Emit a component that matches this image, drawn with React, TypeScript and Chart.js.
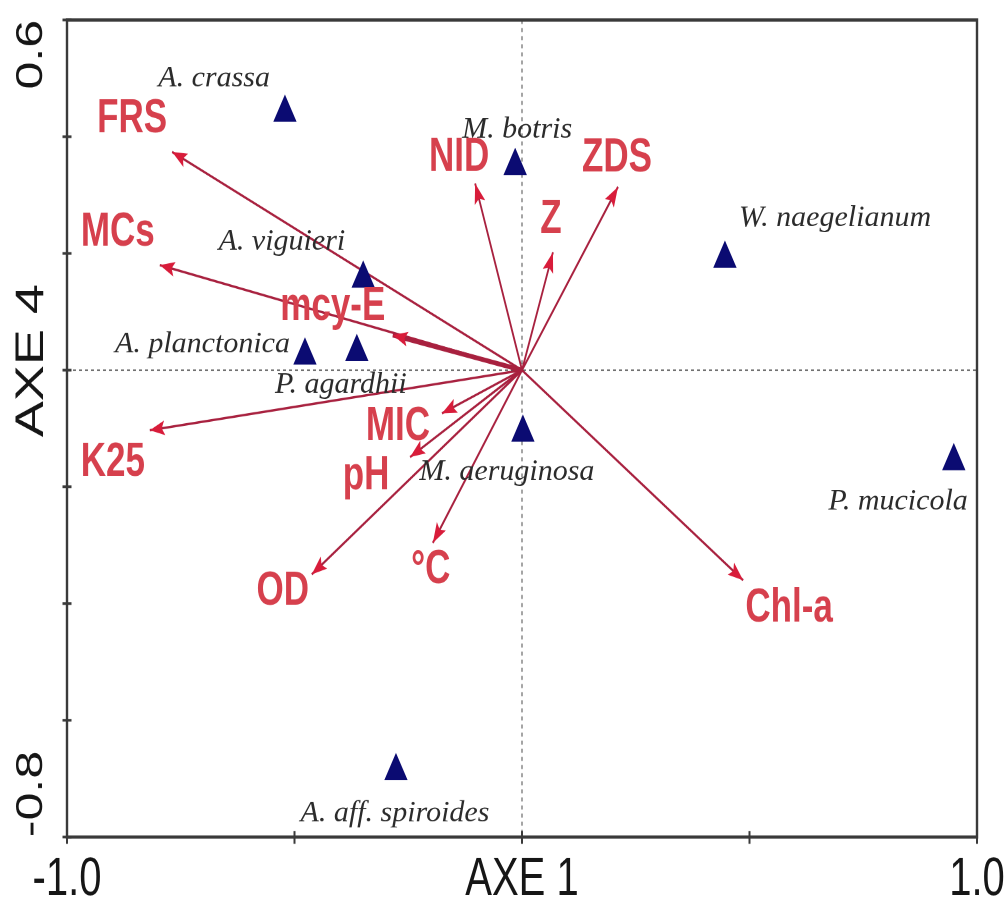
import React, { useEffect, useRef } from 'react';
import { Chart, registerables } from 'chart.js';

Chart.register(...registerables);

// ---------- data ----------
const speciesNames = [
  'A. crassa',
  'M. botris',
  'W. naegelianum',
  'A. viguieri',
  'A. planctonica',
  'P. agardhii',
  'M. aeruginosa',
  'P. mucicola',
  'A. aff. spiroides',
];
const speciesAxe1 = [-0.521, -0.015, 0.446, -0.349, -0.477, -0.363, 0.002, 0.949, -0.277];
const speciesAxe4 = [0.441, 0.35, 0.191, 0.157, 0.025, 0.031, -0.107, -0.156, -0.687];

const variableNames = ['FRS', 'MCs', 'mcy-E', 'K25', 'MIC', 'pH', 'OD', '°C', 'Chl-a', 'NID', 'Z', 'ZDS'];
const variableAxe1 = [-0.769, -0.796, -0.284, -0.818, -0.176, -0.246, -0.462, -0.196, 0.486, -0.103, 0.068, 0.211];
const variableAxe4 = [0.374, 0.18, 0.06, -0.103, -0.074, -0.149, -0.35, -0.296, -0.36, 0.32, 0.202, 0.314];

const xTickValues = [-1, 1];
const xTickLabels = ['-1.0', '1.0'];
const yTickValues = [-0.8, 0.6];
const yTickLabels = ['-0.8', '0.6'];
const xAxisTitle = 'AXE 1';
const yAxisTitle = 'AXE 4';

// ---------- layout / style ----------
const W = 1007;
const H = 669;
const STRETCH = 903 / H;

const AXIS_FONT = '"Liberation Sans", Arial, Helvetica, sans-serif';
const SERIF_FONT = '"Liberation Serif", "Times New Roman", Times, serif';
const AXIS_COLOR = '#161616';
const FRAME_COLOR = '#3a3a3a';
const SPECIES_COLOR = '#0b0b72';
const SPECIES_TEXT = '#2b2b2b';
const ARROW_LINE = '#a8213f';
const ARROW_HEAD = '#d81c3a';
const VAR_TEXT = '#d6404d';
const THICK_ARROWS = ['mcy-E'];
const Y_TITLE_SHIFT = -7;

// label placement (canvas px, relative to the mark)
const speciesLabelPlacement: [CanvasTextAlign, number, number][] = [
  ['right', -15, -19.6],
  ['center', 2, -21.1],
  ['left', 14, -24.1],
  ['right', -18, -21.1],
  ['right', -15, -2.6],
  ['center', -16, 30],
  ['center', -16, 35.2],
  ['right', 14, 35.9],
  ['center', -1, 37.4],
];
const variableLabelOffset: [number, number][] = [
  [-40, -24],
  [-42, -24],
  [-60, -21],
  [-37, 24],
  [-44, 10],
  [-44, 14],
  [-29, 13],
  [-2, 20],
  [46, 21],
  [-16, -19],
  [-2, -24],
  [-1, -21],
];

const biplotPlugin = {
  id: 'biplot',
  beforeDatasetsDraw(chart: any) {
    const { ctx, chartArea: a, scales } = chart;
    const x0 = scales.x.getPixelForValue(0);
    const y0 = scales.y.getPixelForValue(0);
    ctx.save();
    ctx.strokeStyle = '#4a4a4a';
    ctx.lineWidth = 1;
    ctx.setLineDash([3, 3]);
    ctx.beginPath();
    ctx.moveTo(x0, a.top);
    ctx.lineTo(x0, a.bottom);
    ctx.moveTo(a.left, y0);
    ctx.lineTo(a.right, y0);
    ctx.stroke();
    ctx.restore();
  },
  afterDatasetsDraw(chart: any) {
    const { ctx, chartArea: a, scales } = chart;
    const xs = scales.x;
    const ys = scales.y;
    const ox = xs.getPixelForValue(0);
    const oy = ys.getPixelForValue(0);

    // arrow heads
    ctx.save();
    ctx.fillStyle = ARROW_HEAD;
    variableNames.forEach((name, i) => {
      const tx = xs.getPixelForValue(variableAxe1[i]);
      const ty = ys.getPixelForValue(variableAxe4[i]);
      const ang = Math.atan2(ty - oy, tx - ox);
      const L = 15;
      const hw = 5.5;
      const ux = Math.cos(ang);
      const uy = Math.sin(ang);
      ctx.beginPath();
      ctx.moveTo(tx, ty);
      ctx.lineTo(tx - L * ux - hw * uy, ty - L * uy + hw * ux);
      ctx.lineTo(tx - 0.8 * L * ux, ty - 0.8 * L * uy);
      ctx.lineTo(tx - L * ux + hw * uy, ty - L * uy - hw * ux);
      ctx.closePath();
      ctx.fill();
    });
    ctx.restore();

    // variable labels
    ctx.save();
    ctx.font = `bold 35px ${AXIS_FONT}`;
    ctx.fillStyle = VAR_TEXT;
    ctx.textAlign = 'center';
    ctx.textBaseline = 'middle';
    variableNames.forEach((name, i) => {
      const tx = xs.getPixelForValue(variableAxe1[i]);
      const ty = ys.getPixelForValue(variableAxe4[i]);
      const [dx, dy] = variableLabelOffset[i];
      ctx.fillText(name, tx + dx, ty + dy);
    });
    ctx.restore();

    // species labels (drawn without the vertical stretch)
    ctx.save();
    ctx.font = `italic 30px ${SERIF_FONT}`;
    ctx.fillStyle = SPECIES_TEXT;
    ctx.textBaseline = 'alphabetic';
    speciesNames.forEach((name, i) => {
      const px = xs.getPixelForValue(speciesAxe1[i]);
      const py = ys.getPixelForValue(speciesAxe4[i]);
      const [align, dx, dy] = speciesLabelPlacement[i];
      ctx.save();
      ctx.translate(px + dx, py + dy);
      ctx.scale(1, 1 / STRETCH);
      ctx.textAlign = align;
      ctx.fillText(name, 0, 0);
      ctx.restore();
    });
    ctx.restore();

    // frame and tick marks
    ctx.save();
    ctx.strokeStyle = FRAME_COLOR;
    ctx.lineWidth = 2.4;
    ctx.strokeRect(a.left, a.top, a.right - a.left, a.bottom - a.top);
    ctx.lineWidth = 2;
    ctx.beginPath();
    xs.ticks.forEach((t: any) => {
      const px = xs.getPixelForValue(t.value);
      ctx.moveTo(px, a.bottom - 4.5);
      ctx.lineTo(px, a.bottom + 5);
    });
    ys.ticks.forEach((t: any) => {
      const py = ys.getPixelForValue(t.value);
      ctx.moveTo(a.left - 4.5, py);
      ctx.lineTo(a.left + 4.5, py);
    });
    ctx.stroke();
    ctx.restore();

    // y axis texts (rotated)
    ctx.save();
    ctx.fillStyle = AXIS_COLOR;
    ctx.textBaseline = 'middle';
    const colX = 32;
    ctx.font = `37px ${AXIS_FONT}`;
    yTickValues.forEach((v, i) => {
      const py = ys.getPixelForValue(v);
      ctx.save();
      ctx.translate(colX, py);
      ctx.rotate(-Math.PI / 2);
      ctx.textAlign = v >= ys.max ? 'right' : 'left';
      ctx.fillText(yTickLabels[i], 0, 0);
      ctx.restore();
    });
    ctx.font = `40px ${AXIS_FONT}`;
    ctx.save();
    ctx.translate(colX, oy + Y_TITLE_SHIFT);
    ctx.rotate(-Math.PI / 2);
    ctx.textAlign = 'center';
    ctx.fillText(yAxisTitle, 0, 0);
    ctx.restore();
    ctx.restore();
  },
};

export default function App() {
  const ref = useRef<HTMLCanvasElement>(null);

  useEffect(() => {
    if (!ref.current) return;
    const speciesData = speciesAxe1.map((x, i) => ({ x, y: speciesAxe4[i] }));
    const arrowSets = variableNames.map((name, i) => ({
      label: name,
      data: [
        { x: 0, y: 0 },
        { x: variableAxe1[i], y: variableAxe4[i] },
      ],
      showLine: true,
      pointRadius: 0,
      borderColor: ARROW_LINE,
      borderWidth: THICK_ARROWS.includes(name) ? 3.6 : 1.8,
      fill: false,
    }));

    const chart = new Chart(ref.current, {
      type: 'scatter',
      data: {
        datasets: [
          {
            label: 'species',
            data: speciesData,
            pointStyle: 'triangle',
            pointRadius: 12.5,
            backgroundColor: SPECIES_COLOR,
            borderColor: SPECIES_COLOR,
            borderWidth: 1,
            showLine: false,
          } as any,
          ...arrowSets,
        ],
      },
      options: {
        responsive: false,
        animation: false,
        devicePixelRatio: 2,
        events: [],
        layout: { padding: { left: 0, right: 30, top: 14.8, bottom: 0 } },
        plugins: {
          legend: { display: false },
          tooltip: { enabled: false },
        },
        scales: {
          x: {
            type: 'linear',
            min: -1,
            max: 1,
            grid: { display: false, drawTicks: false },
            border: { display: false },
            ticks: {
              stepSize: 0.5,
              autoSkip: false,
              maxRotation: 0,
              minRotation: 0,
              padding: 8,
              color: AXIS_COLOR,
              font: { family: AXIS_FONT, size: 40 },
              callback: (value: any) => {
                const idx = xTickValues.findIndex((v) => Math.abs(v - Number(value)) < 1e-9);
                return idx >= 0 ? xTickLabels[idx] : '';
              },
            },
            title: {
              display: true,
              text: xAxisTitle,
              color: AXIS_COLOR,
              font: { family: AXIS_FONT, size: 40, lineHeight: 0.85 },
              padding: { top: 0, bottom: 0 },
            },
            afterFit: (scale: any) => {
              scale.height = H - 620.1;
              scale.paddingLeft = 0;
              scale.paddingRight = 0;
            },
          },
          y: {
            type: 'linear',
            min: -0.8,
            max: 0.6,
            grid: { display: false, drawTicks: false },
            border: { display: false },
            ticks: { stepSize: 0.2, display: false },
            afterFit: (scale: any) => {
              scale.width = 67;
              scale.paddingTop = 0;
              scale.paddingBottom = 0;
            },
          },
        },
      },
      plugins: [biplotPlugin],
    } as any);

    return () => chart.destroy();
  }, []);

  return (
    <div
      style={{
        position: 'fixed',
        left: 0,
        top: 0,
        width: 1007,
        height: 903,
        overflow: 'hidden',
        background: '#fff',
      }}
    >
      <div style={{ width: W, height: H, transform: `scaleY(${STRETCH})`, transformOrigin: '0 0' }}>
        <canvas ref={ref} width={W} height={H} style={{ display: 'block', width: W, height: H }} />
      </div>
    </div>
  );
}
